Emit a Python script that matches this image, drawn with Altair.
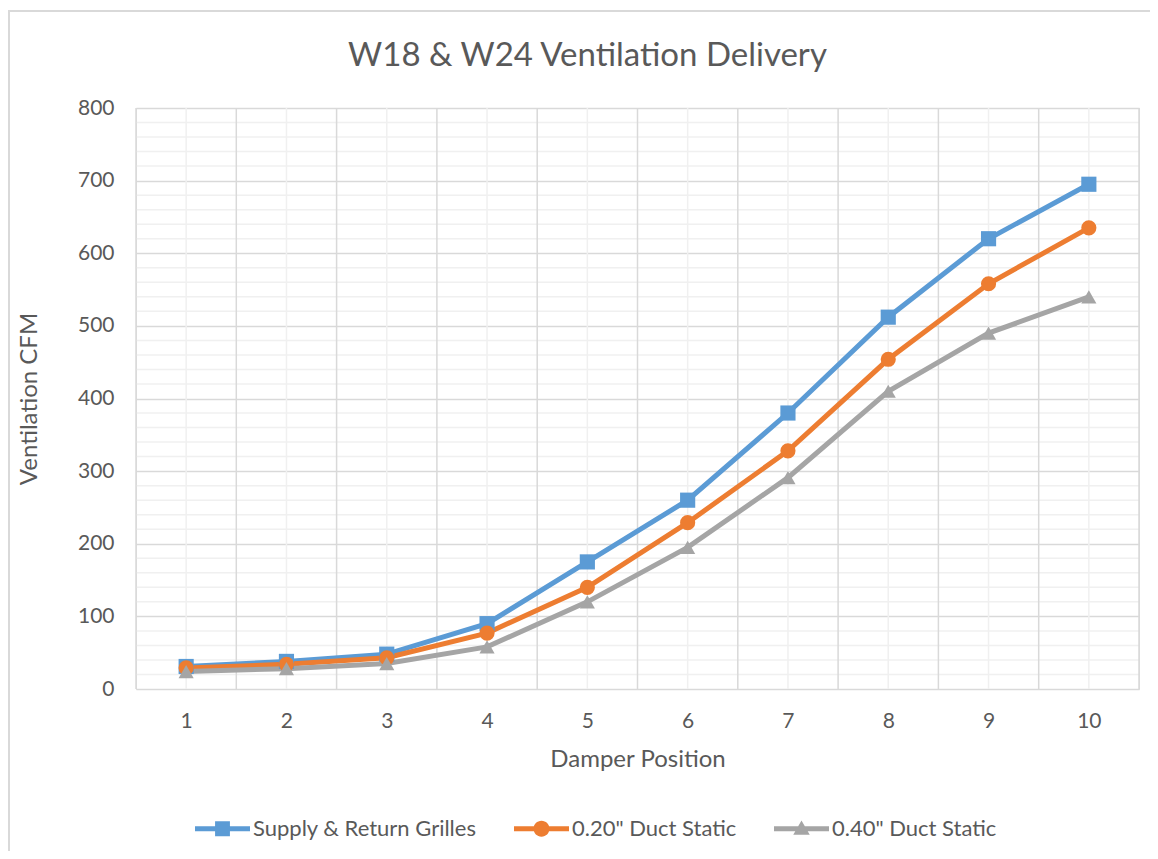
import altair as alt
import pandas as pd

positions = [1, 2, 3, 4, 5, 6, 7, 8, 9, 10]
series_names = ["Supply & Return Grilles", '0.20" Duct Static', '0.40" Duct Static']
supply_return = [31, 38, 48, 90, 175, 260, 380, 512, 620, 695]
duct_020 = [29, 34, 43, 77, 140, 229, 328, 454, 558, 635]
duct_040 = [24, 28, 35, 58, 120, 195, 291, 410, 490, 540]
colors = ["#5B9BD5", "#ED7D31", "#A5A5A5"]

# gridline positions (category boundaries / centers, major / minor y steps)
x_major_grid = [0.5, 1.5, 2.5, 3.5, 4.5, 5.5, 6.5, 7.5, 8.5, 9.5, 10.5]
x_minor_grid = positions
y_major = [0, 100, 200, 300, 400, 500, 600, 700, 800]
y_minor_grid = [v for v in range(20, 800, 20) if v % 100 != 0]

rows = []
for name, vals in zip(series_names, [supply_return, duct_020, duct_040]):
    for p, v in zip(positions, vals):
        rows.append({"position": p, "cfm": v, "series": name})
df = pd.DataFrame(rows)

FONT = "Lato"
TXT = "#595959"
MAJOR = "#d9d9d9"
MINOR = "#f0f0f0"
W, H = 1003, 581

x_scale = alt.Scale(domain=[0.5, 10.5], nice=False, zero=False)
y_scale = alt.Scale(domain=[0, 800], nice=False)

x_enc = alt.X(
    "position:Q",
    scale=x_scale,
    axis=alt.Axis(
        title="Damper Position",
        values=positions,
        format="d",
        grid=False,
        domain=False,
        ticks=False,
        labelPadding=21,
        labelFontSize=21,
        labelColor=TXT,
        labelFont=FONT,
        titleFont=FONT,
        titleFontSize=24,
        titleFontWeight="normal",
        titleColor=TXT,
        titlePadding=16,
    ),
)
y_enc = alt.Y(
    "cfm:Q",
    scale=y_scale,
    axis=alt.Axis(
        title="Ventilation CFM",
        values=y_major,
        format="d",
        grid=True,
        gridColor=MAJOR,
        gridWidth=1.5,
        domain=False,
        ticks=False,
        labelPadding=22,
        labelFontSize=21,
        labelColor=TXT,
        labelFont=FONT,
        titleFont=FONT,
        titleFontSize=24,
        titleFontWeight="normal",
        titleColor=TXT,
        titlePadding=36,
    ),
)

color_plain = alt.Color("series:N", scale=alt.Scale(domain=series_names, range=colors), legend=None)

frame = alt.Chart(pd.DataFrame({"k": [0]})).mark_rect(
    fill="transparent", stroke=MAJOR, strokeWidth=2
).encode(
    x=alt.value(-127), x2=alt.value(W + 60), y=alt.value(-97), y2=alt.value(H + 250)
)

y_minor_rules = alt.Chart(pd.DataFrame({"v": y_minor_grid})).mark_rule(
    color=MINOR, strokeWidth=1.5
).encode(y=alt.Y("v:Q", scale=y_scale))
x_minor_rules = alt.Chart(pd.DataFrame({"v": x_minor_grid})).mark_rule(
    color=MINOR, strokeWidth=1.5
).encode(x=alt.X("v:Q", scale=x_scale))
x_major_rules = alt.Chart(pd.DataFrame({"v": x_major_grid})).mark_rule(
    color=MAJOR, strokeWidth=1.5
).encode(x=alt.X("v:Q", scale=x_scale))

lines = alt.Chart(df).mark_line(strokeWidth=5).encode(x=x_enc, y=y_enc, color=color_plain)

points = alt.Chart(df).mark_point(filled=True, opacity=1, size=230).encode(
    x="position:Q",
    y="cfm:Q",
    color=color_plain,
    shape=alt.Shape(
        "series:N",
        scale=alt.Scale(domain=series_names, range=["square", "circle", "triangle-up"]),
        legend=None,
    ),
)

legend_paths = [
    "M-1,-0.09L1,-0.09L1,0.09L-1,0.09Z M-0.27,-0.27L0.27,-0.27L0.27,0.27L-0.27,0.27Z",
    "M-1,-0.09L1,-0.09L1,0.09L-1,0.09Z M-0.29,0A0.29,0.29,0,1,1,0.29,0A0.29,0.29,0,1,1,-0.29,0Z",
    "M-1,-0.09L1,-0.09L1,0.09L-1,0.09Z M0,-0.3L0.3,0.22L-0.3,0.22Z",
]
leg = alt.Legend(
    title=None,
    orient="none",
    legendX=59,
    legendY=693,
    direction="horizontal",
    symbolSize=3025,
    symbolStrokeWidth=0,
    symbolOpacity=1,
    labelFont=FONT,
    labelFontSize=22,
    labelColor=TXT,
    labelOffset=3,
    columnPadding=37,
    labelLimit=400,
)
legend_layer = alt.Chart(df).mark_point(filled=True, size=0).encode(
    x="position:Q",
    y="cfm:Q",
    color=alt.Color("series:N", scale=alt.Scale(domain=series_names, range=colors), legend=leg),
    shape=alt.Shape("series:N", scale=alt.Scale(domain=series_names, range=legend_paths), legend=leg),
)

chart = (
    alt.layer(frame, y_minor_rules, x_minor_rules, x_major_rules, lines, points, legend_layer)
    .resolve_scale(color="independent", shape="independent")
    .properties(
        width=W,
        height=H,
        title=alt.Title(
            "W18 & W24 Ventilation Delivery",
            font=FONT,
            fontSize=33,
            fontWeight="normal",
            color=TXT,
            frame="group",
            offset=0,
            dy=63,
            dx=-50,
        ),
        autosize=alt.AutoSizeParams(type="none"),
        padding={"left": 128, "top": 100, "right": 11, "bottom": 162},
    )
    .configure_view(stroke=None)
    .configure(background="white")
)

chart.save("out.html", embed_options={"renderer": "svg", "actions": False})
